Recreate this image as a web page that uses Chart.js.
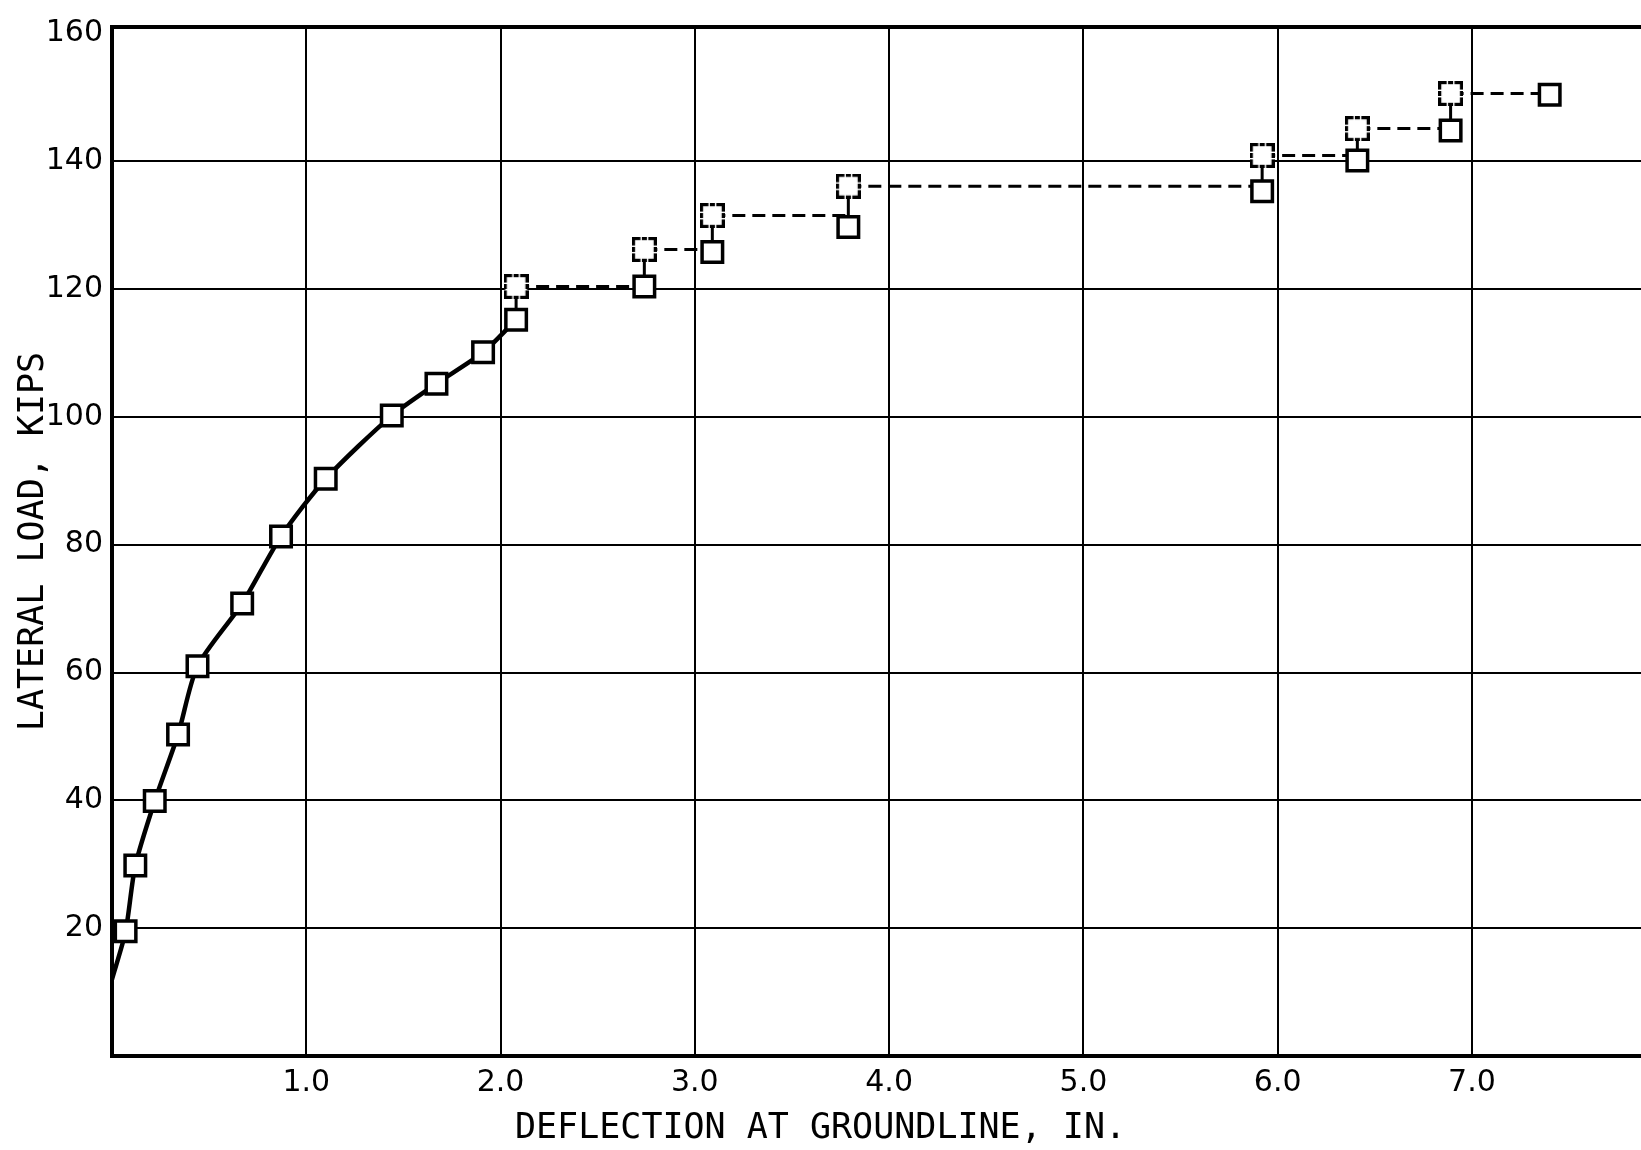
<!DOCTYPE html>
<html>
<head>
<meta charset="utf-8">
<script src="https://cdn.jsdelivr.net/npm/chart.js@4.4.1/dist/chart.umd.min.js"></script>
<style>
  html, body { margin: 0; padding: 0; background: #fff; overflow: hidden; }
  #wrap { width: 1641px; height: 1150px; }
</style>
</head>
<body>
<div id="wrap"><canvas id="grafico"></canvas></div>
<script>
// first part of the test, load applied continuously (solid curve)
const curveX = [0.0, 0.07, 0.12, 0.22, 0.34, 0.44, 0.67, 0.87, 1.10, 1.44, 1.67, 1.91];
const curveY = [12, 19.5, 29.8, 39.9, 50.3, 61, 70.8, 81.3, 90.3, 100.2, 105.2, 110.1];

// load steps: solid squares (start of each step)
const stepX = [2.08, 2.74, 3.09, 3.79, 5.92, 6.41, 6.89, 7.40];
const stepY = [115.2, 120.4, 125.8, 129.7, 135.3, 140.1, 144.8, 150.4];

// dashed squares (end of each hold)
const holdX = [2.08, 2.74, 3.09, 3.79, 5.92, 6.41, 6.89];
const holdY = [120.4, 126.2, 131.5, 136.1, 140.9, 145.1, 150.6];

const yTicks = [20, 40, 60, 80, 100, 120, 140, 160];
const xTicks = [1, 2, 3, 4, 5, 6, 7];

const negro = '#000';
const tickFont = { family: 'DejaVu Sans', size: 30 };
const titleFont = { family: 'DejaVu Sans Mono', size: 35, weight: 'normal' };

const pts = (xs, ys) => xs.map((x, i) => ({ x: x, y: ys[i] }));

// curve ends at the first step square
const curvePts = pts(curveX.concat([stepX[0]]), curveY.concat([stepY[0]]));

// short vertical lines between a solid square and the dashed one above it
const conectores = [];
holdX.forEach((x, i) => {
  conectores.push({ x: x, y: stepY[i] }, { x: x, y: holdY[i] }, { x: x, y: null });
});

// dashed horizontal lines from each dashed square to the next step
const discontinua = [];
holdX.forEach((x, i) => {
  discontinua.push({ x: x, y: holdY[i] }, { x: stepX[i + 1], y: holdY[i] }, { x: stepX[i + 1], y: null });
});

// dashed square marker
function cuadroDiscontinuo(size, lw) {
  const c = document.createElement('canvas');
  c.width = size; c.height = size;
  const g = c.getContext('2d');
  const a = lw / 2, b = size - lw / 2, L = b - a;
  g.fillStyle = '#fff';
  g.fillRect(a, a, L, L);
  g.strokeStyle = negro;
  g.lineWidth = lw;
  const esq = 7, mid = 5;
  const lado = (x1, y1, x2, y2) => {
    const dx = (x2 - x1) / L, dy = (y2 - y1) / L;
    const seg = (s, e) => {
      g.beginPath();
      g.moveTo(x1 + dx * s, y1 + dy * s);
      g.lineTo(x1 + dx * e, y1 + dy * e);
      g.stroke();
    };
    seg(-a, esq);
    seg(L / 2 - mid / 2, L / 2 + mid / 2);
    seg(L - esq, L + a);
  };
  lado(a, a, b, a);
  lado(b, a, b, b);
  lado(b, b, a, b);
  lado(a, b, a, a);
  return c;
}

const ctx = document.getElementById('grafico').getContext('2d');

new Chart(ctx, {
  type: 'scatter',
  data: {
    datasets: [
      {
        label: 'steps',
        data: pts(stepX.slice(1), stepY.slice(1)),
        showLine: false,
        pointStyle: 'rect',
        pointRadius: 14.5,
        pointBorderWidth: 3.5,
        pointBorderColor: negro,
        pointBackgroundColor: '#fff'
      },
      {
        label: 'hold',
        data: pts(holdX, holdY),
        showLine: false,
        pointStyle: cuadroDiscontinuo(25, 3.2),
        pointRadius: 12
      },
      {
        label: 'curve',
        data: curvePts,
        showLine: true,
        borderColor: negro,
        borderWidth: 4.5,
        tension: 0.25,
        pointStyle: 'rect',
        pointRadius: curvePts.map((p, i) => i === 0 ? 0 : 14.5),
        pointBorderWidth: 3.5,
        pointBorderColor: negro,
        pointBackgroundColor: '#fff'
      },
      {
        label: 'connectors',
        data: conectores,
        showLine: true,
        spanGaps: false,
        borderColor: negro,
        borderWidth: 3,
        pointRadius: 0
      },
      {
        label: 'dashed',
        data: discontinua,
        showLine: true,
        spanGaps: false,
        borderColor: negro,
        borderWidth: 3,
        borderDash: [13, 7],
        pointRadius: 0
      }
    ]
  },
  options: {
    responsive: true,
    maintainAspectRatio: false,
    animation: false,
    events: [],
    layout: { padding: 0, autoPadding: false },
    plugins: {
      legend: { display: false },
      tooltip: { enabled: false },
      title: {
        display: true,
        position: 'bottom',
        text: 'DEFLECTION AT GROUNDLINE, IN.',
        color: negro,
        font: titleFont,
        padding: { top: 0, bottom: 0 }
      }
    },
    scales: {
      x: {
        type: 'linear',
        position: 'bottom',
        min: 0,
        max: 7.87,
        afterBuildTicks: s => { s.ticks = xTicks.map(v => ({ value: v })); },
        afterFit: s => { s.height = 52; },
        grid: { color: negro, lineWidth: 2, drawTicks: false },
        border: { color: negro, width: 4 },
        ticks: {
          color: negro,
          padding: 9,
          font: tickFont,
          maxRotation: 0,
          callback: v => v.toFixed(1)
        }
      },
      xTop: {
        type: 'linear',
        position: 'top',
        min: 0,
        max: 1,
        afterFit: s => { s.height = 14; },
        ticks: { display: false },
        grid: { display: false, drawTicks: false },
        border: { display: true, color: negro, width: 4 }
      },
      y: {
        type: 'linear',
        min: 0,
        max: 161,
        afterBuildTicks: s => { s.ticks = yTicks.map(v => ({ value: v })); },
        afterFit: s => { s.width = 112; },
        grid: {
          color: c => c.tick && c.tick.value === 160 ? 'rgba(0,0,0,0)' : negro,
          lineWidth: 2,
          drawTicks: false
        },
        border: { color: negro, width: 4 },
        ticks: { color: negro, padding: 9, font: tickFont },
        title: {
          display: true,
          text: 'LATERAL LOAD, KIPS',
          color: negro,
          font: titleFont,
          padding: { top: 13, bottom: 0 }
        }
      }
    }
  }
});
</script>
</body>
</html>
